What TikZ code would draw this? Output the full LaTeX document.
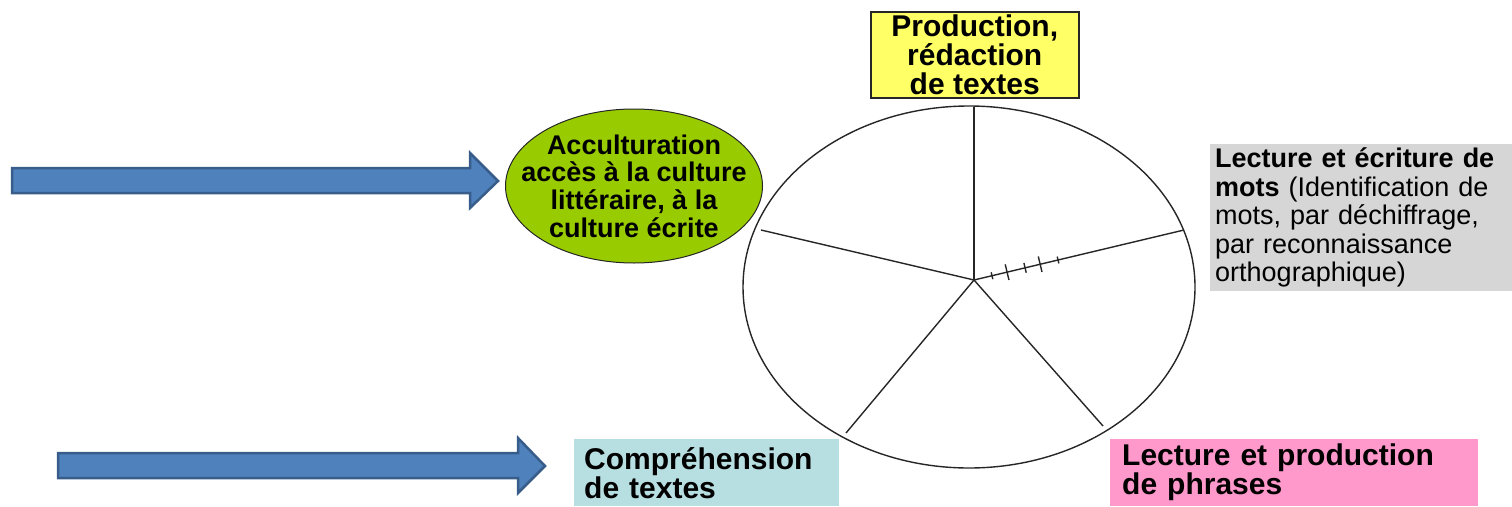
\documentclass[tikz,border=0pt]{standalone}
\usepackage{fontspec}
\setmainfont{Liberation Sans}
\usetikzlibrary{calc,shapes.geometric}
\definecolor{arrowfill}{HTML}{4F81BD}
\definecolor{arrowline}{HTML}{385D8A}
\definecolor{greenfill}{HTML}{99CC00}
\definecolor{yellowfill}{HTML}{FFFF66}
\definecolor{tealfill}{HTML}{B7DEE0}
\definecolor{pinkfill}{HTML}{FF99CC}
\definecolor{grayfill}{HTML}{D6D6D6}
\begin{document}
\begin{tikzpicture}[x=1pt,y=-1pt,
  blockarrow/.style={fill=arrowfill,draw=arrowline,line width=2.5pt,line join=miter},
  spoke/.style={draw=black!85,line width=1.4pt},
  tick/.style={draw=black!85,line width=1.4pt},
  labelbox/.style={inner ysep=0pt,anchor=north west,align=left,
    font=\bfseries\fontsize{30pt}{29pt}\selectfont},
]
\useasboundingbox (0,0) rectangle (1512,506);

% wheel
\node[ellipse,draw=black!85,line width=1.4pt,minimum width=452pt,minimum height=362pt,inner sep=0pt] (wheel) at (969,287) {};
\coordinate (c) at (974,280);
\coordinate (st) at (974,107);
\coordinate (sul) at (761,230);
\coordinate (sur) at (1184,230);
\coordinate (sll) at (846,433);
\coordinate (slr) at (1103,426);
\draw[spoke] (c) -- (st);
\draw[spoke] (c) -- (sul);
\draw[spoke] (c) -- (sur);
\draw[spoke] (c) -- (sll);
\draw[spoke] (c) -- (slr);
\foreach \d/\l in {18.5/3.5, 34/8, 52.5/5, 68/8, 86.4/3.5}{
  \draw[tick] ($($(c)!\d pt!(sur)$)!\l pt!90:(sur)$) -- ($($(c)!\d pt!(sur)$)!\l pt!-90:(sur)$);
}

% top box
\node[draw=black!85,line width=1.5pt,fill=yellowfill,anchor=north west,
  minimum width=208pt,minimum height=86pt,inner sep=0pt,align=center,
  font=\bfseries\fontsize{30pt}{29pt}\selectfont] (prod) at (870,11)
  {Production,\\rédaction\\de textes};

% green ellipse
\node[ellipse,draw=black!85,line width=1pt,fill=greenfill,
  minimum width=257pt,minimum height=154pt,inner xsep=-24pt,inner ysep=-3pt,align=center,
  font=\bfseries\fontsize{27pt}{27.7pt}\selectfont] (acc) at (634,186)
  {Acculturation\\accès à la culture\\littéraire, à la\\culture écrite};

% grey box
\node[fill=grayfill,anchor=north west,inner xsep=5pt,inner ysep=0pt,
  text width=292pt,minimum height=147pt,align=left,
  font=\fontsize{27pt}{28.5pt}\selectfont] (mots) at (1210,144)
  {\textbf{Lecture et écriture de}\\\textbf{mots} (Identification de\\mots, par déchiffrage,\\par reconnaissance\\orthographique)};

% bottom boxes
\node[labelbox,fill=tealfill,inner xsep=10pt,text width=245pt,minimum height=67pt] (comp) at (574,439)
  {Compréhension\\de textes};
\node[labelbox,fill=pinkfill,inner xsep=12pt,text width=344pt,minimum height=67pt] (phr) at (1110,439)
  {Lecture et production\\de phrases};

% block arrows
\draw[blockarrow] (12,168) -- (470,168) -- (470,153) -- (498,181) -- (470,208) -- (470,193) -- (12,193) -- cycle;
\draw[blockarrow] (58,453) -- (518,453) -- (518,438) -- (545,466) -- (518,493) -- (518,478) -- (58,478) -- cycle;
\end{tikzpicture}
\end{document}
